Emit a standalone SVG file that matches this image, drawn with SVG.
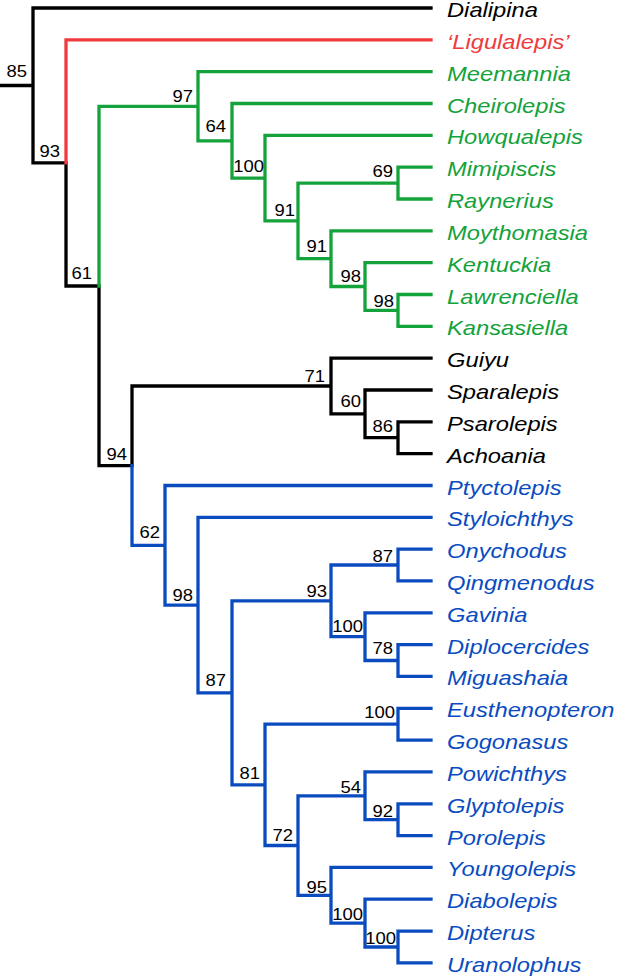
<svg xmlns="http://www.w3.org/2000/svg" width="617" height="979" viewBox="0 0 617 979">
<style>
.e{fill:none;stroke-width:3.3;stroke-linecap:square;stroke-linejoin:miter}
.ek{stroke:#000}.er{stroke:#f03a3d}.eg{stroke:#14a23a}.eb{stroke:#0a4cc0}
.leaf{font-family:"Liberation Sans",Arial,sans-serif;font-style:italic;font-size:21px}
.k{fill:#000}.r{fill:#f03a3d}.g{fill:#14a23a}.b{fill:#0a4cc0}
.s{font-family:"Liberation Sans",Arial,sans-serif;font-size:16.5px;fill:#000;text-anchor:end}
</style>
<rect width="617" height="979" fill="#fff"/>
<g id="connectors">
<path class="e ek" d="M0,85.5H33 M33,85.5V8H431 M33,85.5V162.9H66 M66,162.9V286H99 M99,286V465.7H132 M132,465.7V386H331 M331,386V358.1H431 M331,386V413.9H365 M365,413.9V390H431 M365,413.9V437.7H398 M398,437.7V421.8H431 M398,437.7V453.6H431"/>
<path class="e er" d="M66,162.9V39.8H431"/>
<path class="e eg" d="M99,286V106.3H198 M198,106.3V71.7H431 M198,106.3V140.8H232 M232,140.8V103.5H431 M232,140.8V178.1H265 M265,178.1V135.3H431 M265,178.1V220.9H298 M298,220.9V183.1H398 M398,183.1V167.2H431 M398,183.1V199H431 M298,220.9V258.7H331 M331,258.7V230.8H431 M331,258.7V286.5H365 M365,286.5V262.6H431 M365,286.5V310.4H398 M398,310.4V294.5H431 M398,310.4V326.3H431"/>
<path class="e eb" d="M132,465.7V545.3H165 M165,545.3V485.5H431 M165,545.3V605.1H198 M198,605.1V517.3H431 M198,605.1V692.8H232 M232,692.8V600.8H331 M331,600.8V565H398 M398,565V549.1H431 M398,565V580.9H431 M331,600.8V636.7H365 M365,636.7V612.8H431 M365,636.7V660.5H398 M398,660.5V644.6H431 M398,660.5V676.4H431 M232,692.8V784.9H265 M265,784.9V724.2H398 M398,724.2V708.3H431 M398,724.2V740.1H431 M265,784.9V845.5H298 M298,845.5V795.8H365 M365,795.8V771.9H431 M365,795.8V819.7H398 M398,819.7V803.8H431 M398,819.7V835.6H431 M298,845.5V895.3H331 M331,895.3V867.4H431 M331,895.3V923.1H365 M365,923.1V899.2H431 M365,923.1V947H398 M398,947V931.1H431 M398,947V962.9H431"/>
</g>
<g id="leaves">
<g id="node-dialipina"><text class="leaf k" transform="translate(447,17) scale(1.13,1)">Dialipina</text></g>
<g id="node-ligulalepis"><text class="leaf r" transform="translate(447,48.8) scale(1.13,1)">‘Ligulalepis’</text></g>
<g id="node-meemannia"><text class="leaf g" transform="translate(447,80.7) scale(1.13,1)">Meemannia</text></g>
<g id="node-cheirolepis"><text class="leaf g" transform="translate(447,112.5) scale(1.13,1)">Cheirolepis</text></g>
<g id="node-howqualepis"><text class="leaf g" transform="translate(447,144.3) scale(1.13,1)">Howqualepis</text></g>
<g id="node-mimipiscis"><text class="leaf g" transform="translate(447,176.2) scale(1.13,1)">Mimipiscis</text></g>
<g id="node-raynerius"><text class="leaf g" transform="translate(447,208) scale(1.13,1)">Raynerius</text></g>
<g id="node-moythomasia"><text class="leaf g" transform="translate(447,239.8) scale(1.13,1)">Moythomasia</text></g>
<g id="node-kentuckia"><text class="leaf g" transform="translate(447,271.6) scale(1.13,1)">Kentuckia</text></g>
<g id="node-lawrenciella"><text class="leaf g" transform="translate(447,303.5) scale(1.13,1)">Lawrenciella</text></g>
<g id="node-kansasiella"><text class="leaf g" transform="translate(447,335.3) scale(1.13,1)">Kansasiella</text></g>
<g id="node-guiyu"><text class="leaf k" transform="translate(447,367.1) scale(1.13,1)">Guiyu</text></g>
<g id="node-sparalepis"><text class="leaf k" transform="translate(447,399) scale(1.13,1)">Sparalepis</text></g>
<g id="node-psarolepis"><text class="leaf k" transform="translate(447,430.8) scale(1.13,1)">Psarolepis</text></g>
<g id="node-achoania"><text class="leaf k" transform="translate(447,462.6) scale(1.13,1)">Achoania</text></g>
<g id="node-ptyctolepis"><text class="leaf b" transform="translate(447,494.5) scale(1.13,1)">Ptyctolepis</text></g>
<g id="node-styloichthys"><text class="leaf b" transform="translate(447,526.3) scale(1.13,1)">Styloichthys</text></g>
<g id="node-onychodus"><text class="leaf b" transform="translate(447,558.1) scale(1.13,1)">Onychodus</text></g>
<g id="node-qingmenodus"><text class="leaf b" transform="translate(447,589.9) scale(1.13,1)">Qingmenodus</text></g>
<g id="node-gavinia"><text class="leaf b" transform="translate(447,621.8) scale(1.13,1)">Gavinia</text></g>
<g id="node-diplocercides"><text class="leaf b" transform="translate(447,653.6) scale(1.13,1)">Diplocercides</text></g>
<g id="node-miguashaia"><text class="leaf b" transform="translate(447,685.4) scale(1.13,1)">Miguashaia</text></g>
<g id="node-eusthenopteron"><text class="leaf b" transform="translate(447,717.3) scale(1.13,1)">Eusthenopteron</text></g>
<g id="node-gogonasus"><text class="leaf b" transform="translate(447,749.1) scale(1.13,1)">Gogonasus</text></g>
<g id="node-powichthys"><text class="leaf b" transform="translate(447,780.9) scale(1.13,1)">Powichthys</text></g>
<g id="node-glyptolepis"><text class="leaf b" transform="translate(447,812.8) scale(1.13,1)">Glyptolepis</text></g>
<g id="node-porolepis"><text class="leaf b" transform="translate(447,844.6) scale(1.13,1)">Porolepis</text></g>
<g id="node-youngolepis"><text class="leaf b" transform="translate(447,876.4) scale(1.13,1)">Youngolepis</text></g>
<g id="node-diabolepis"><text class="leaf b" transform="translate(447,908.2) scale(1.13,1)">Diabolepis</text></g>
<g id="node-dipterus"><text class="leaf b" transform="translate(447,940.1) scale(1.13,1)">Dipterus</text></g>
<g id="node-uranolophus"><text class="leaf b" transform="translate(447,971.9) scale(1.13,1)">Uranolophus</text></g>
</g>
<g id="supports">
<g id="n85"><text class="s" transform="translate(27,77) scale(1.12,1)">85</text></g>
<g id="n93"><text class="s" transform="translate(60,157) scale(1.12,1)">93</text></g>
<g id="n61"><text class="s" transform="translate(92,279) scale(1.12,1)">61</text></g>
<g id="n97"><text class="s" transform="translate(193,102) scale(1.12,1)">97</text></g>
<g id="n64"><text class="s" transform="translate(226,132) scale(1.12,1)">64</text></g>
<g id="n100a"><text class="s" transform="translate(264,172) scale(1.12,1)">100</text></g>
<g id="n91a"><text class="s" transform="translate(295,216) scale(1.12,1)">91</text></g>
<g id="n69"><text class="s" transform="translate(393,177) scale(1.12,1)">69</text></g>
<g id="n91b"><text class="s" transform="translate(327,252) scale(1.12,1)">91</text></g>
<g id="n98a"><text class="s" transform="translate(361,282) scale(1.12,1)">98</text></g>
<g id="n98b"><text class="s" transform="translate(394,307) scale(1.12,1)">98</text></g>
<g id="n94"><text class="s" transform="translate(127,460) scale(1.12,1)">94</text></g>
<g id="n71"><text class="s" transform="translate(325,381.7) scale(1.12,1)">71</text></g>
<g id="n60"><text class="s" transform="translate(361,407.3) scale(1.12,1)">60</text></g>
<g id="n86"><text class="s" transform="translate(393,431.7) scale(1.12,1)">86</text></g>
<g id="n62"><text class="s" transform="translate(160,538.3) scale(1.12,1)">62</text></g>
<g id="n98c"><text class="s" transform="translate(193,601) scale(1.12,1)">98</text></g>
<g id="n87a"><text class="s" transform="translate(226,686) scale(1.12,1)">87</text></g>
<g id="n93b"><text class="s" transform="translate(327,596.7) scale(1.12,1)">93</text></g>
<g id="n87b"><text class="s" transform="translate(393,561.7) scale(1.12,1)">87</text></g>
<g id="n100b"><text class="s" transform="translate(363,631.7) scale(1.12,1)">100</text></g>
<g id="n78"><text class="s" transform="translate(393,654.3) scale(1.12,1)">78</text></g>
<g id="n81"><text class="s" transform="translate(260,779.3) scale(1.12,1)">81</text></g>
<g id="n100c"><text class="s" transform="translate(395,718.3) scale(1.12,1)">100</text></g>
<g id="n72"><text class="s" transform="translate(293,840.7) scale(1.12,1)">72</text></g>
<g id="n54"><text class="s" transform="translate(361,793.3) scale(1.12,1)">54</text></g>
<g id="n92"><text class="s" transform="translate(393,816.7) scale(1.12,1)">92</text></g>
<g id="n95"><text class="s" transform="translate(327,892.7) scale(1.12,1)">95</text></g>
<g id="n100d"><text class="s" transform="translate(363,920) scale(1.12,1)">100</text></g>
<g id="n100e"><text class="s" transform="translate(396,944.3) scale(1.12,1)">100</text></g>
</g>
</svg>
